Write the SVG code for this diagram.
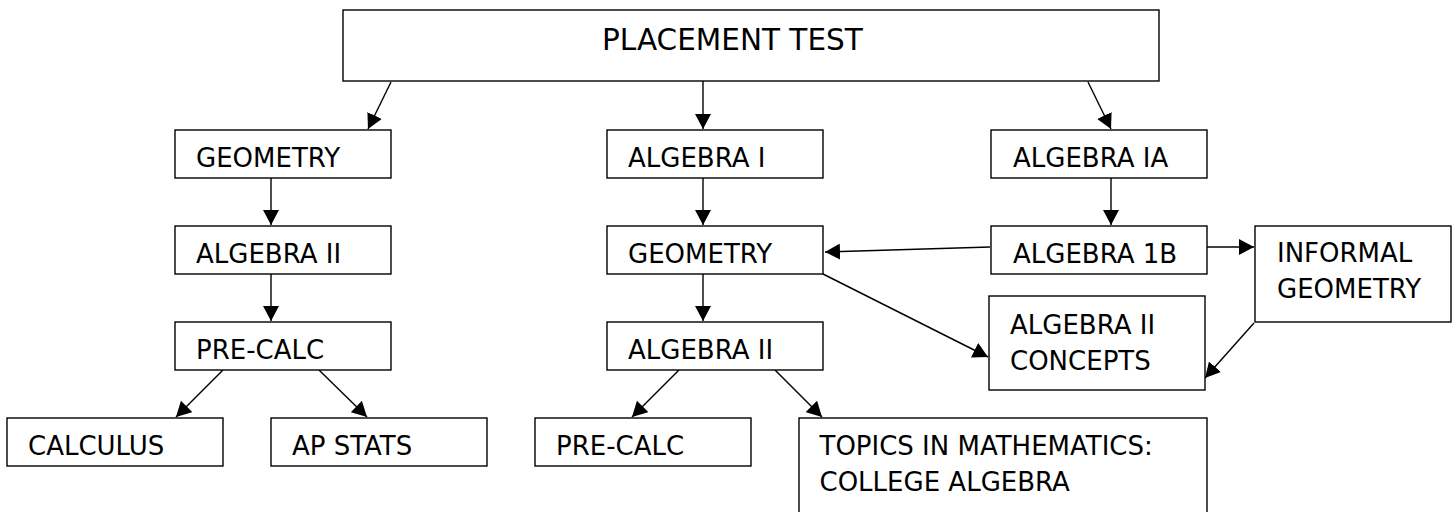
<svg xmlns="http://www.w3.org/2000/svg" width="1455" height="512" viewBox="0 0 1455 512">
<style>
.box{fill:#fff;stroke:#000;stroke-width:1.4}
.t{font-family:"DejaVu Sans",Verdana,sans-serif;font-size:26px;fill:#000}
.big{font-size:29.5px}
.c{stroke:#000;stroke-width:1.4;fill:none;marker-end:url(#ah)}
</style>
<defs>
<marker id="ah" viewBox="0 0 15 16" refX="15" refY="8" markerWidth="15" markerHeight="16" orient="auto" markerUnits="userSpaceOnUse">
<path d="M0,0 L15,8 L0,16 Z" fill="#000"/>
</marker>
</defs>
<rect width="1455" height="512" fill="#fff"/>
<g id="connectors">
<line class="c" x1="391" y1="82" x2="368" y2="129"/>
<line class="c" x1="703" y1="81" x2="703" y2="129"/>
<line class="c" x1="1088" y1="82" x2="1111" y2="129"/>
<line class="c" x1="271" y1="178" x2="271" y2="225"/>
<line class="c" x1="271" y1="274" x2="271" y2="321"/>
<line class="c" x1="223" y1="370" x2="176" y2="417"/>
<line class="c" x1="319" y1="370" x2="367" y2="417"/>
<line class="c" x1="703" y1="178" x2="703" y2="225"/>
<line class="c" x1="703" y1="274" x2="703" y2="321"/>
<line class="c" x1="679" y1="370" x2="632" y2="417"/>
<line class="c" x1="775" y1="370" x2="822" y2="417"/>
<line class="c" x1="823" y1="274" x2="988" y2="357"/>
<line class="c" x1="990" y1="247" x2="825" y2="252"/>
<line class="c" x1="1111" y1="178" x2="1111" y2="225"/>
<line class="c" x1="1207" y1="247" x2="1254" y2="247"/>
<line class="c" x1="1254" y1="323" x2="1205" y2="378"/>
</g>
<g id="placement-test"><rect class="box" x="343" y="10" width="816" height="71"/><text class="t big" x="602" y="50">PLACEMENT TEST</text></g>
<g id="geometry-1"><rect class="box" x="175" y="130" width="216" height="48"/><text class="t" x="196" y="167">GEOMETRY</text></g>
<g id="algebra2-1"><rect class="box" x="175" y="226" width="216" height="48"/><text class="t" x="196" y="263">ALGEBRA II</text></g>
<g id="precalc-1"><rect class="box" x="175" y="322" width="216" height="48"/><text class="t" x="196" y="359">PRE-CALC</text></g>
<g id="calculus"><rect class="box" x="7" y="418" width="216" height="48"/><text class="t" x="28" y="455">CALCULUS</text></g>
<g id="ap-stats"><rect class="box" x="271" y="418" width="216" height="48"/><text class="t" x="292" y="455">AP STATS</text></g>
<g id="algebra1"><rect class="box" x="607" y="130" width="216" height="48"/><text class="t" x="628" y="167">ALGEBRA I</text></g>
<g id="geometry-2"><rect class="box" x="607" y="226" width="216" height="48"/><text class="t" x="628" y="263">GEOMETRY</text></g>
<g id="algebra2-2"><rect class="box" x="607" y="322" width="216" height="48"/><text class="t" x="628" y="359">ALGEBRA II</text></g>
<g id="precalc-2"><rect class="box" x="535" y="418" width="216" height="48"/><text class="t" x="556" y="455">PRE-CALC</text></g>
<g id="topics"><rect class="box" x="799" y="418" width="408" height="130"/><text class="t" x="819.5" y="455">TOPICS IN MATHEMATICS:</text><text class="t" x="819.5" y="491">COLLEGE ALGEBRA</text></g>
<g id="algebra1a"><rect class="box" x="991" y="130" width="216" height="48"/><text class="t" x="1013" y="167">ALGEBRA IA</text></g>
<g id="algebra1b"><rect class="box" x="991" y="226" width="216" height="48"/><text class="t" x="1013" y="263">ALGEBRA 1B</text></g>
<g id="informal-geometry"><rect class="box" x="1255" y="226" width="196" height="96"/><text class="t" x="1277" y="261.5">INFORMAL</text><text class="t" x="1277" y="298">GEOMETRY</text></g>
<g id="algebra2-concepts"><rect class="box" x="989" y="296" width="216" height="94"/><text class="t" x="1010" y="333.5">ALGEBRA II</text><text class="t" x="1010" y="369.5">CONCEPTS</text></g>
</svg>
